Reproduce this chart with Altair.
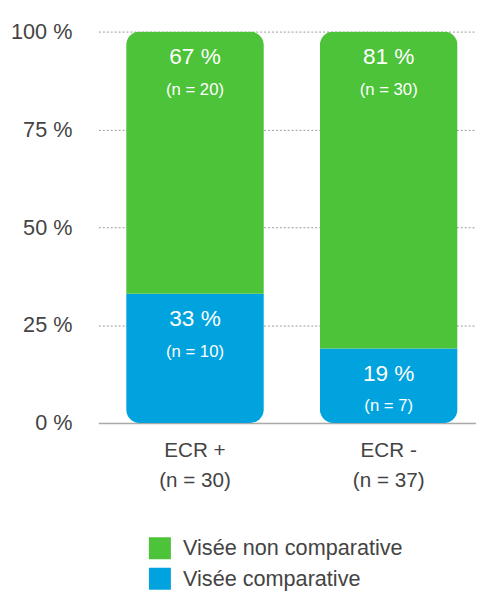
import altair as alt
import pandas as pd

groups = ["ECR +|(n = 30)", "ECR -|(n = 37)"]
series = ["Visée non comparative", "Visée comparative"]
pct_non = [67, 81]
pct_comp = [33, 19]
n_non = [20, 30]
n_comp = [10, 7]
colors = ["#4dc339", "#00a3de"]

rows = []
for i, g in enumerate(groups):
    rows.append(dict(group=g, serie=series[1], pct=pct_comp[i], n=n_comp[i], ord=0,
                     top=pct_comp[i]))
    rows.append(dict(group=g, serie=series[0], pct=pct_non[i], n=n_non[i], ord=1,
                     top=pct_comp[i] + pct_non[i]))
df = pd.DataFrame(rows)
df["pct_label"] = df["pct"].astype(str) + " %"
df["n_label"] = "(n = " + df["n"].astype(str) + ")"

FONT = "Liberation Sans"
TXT = "#444"

x_scale = alt.Scale(paddingInner=0.289, paddingOuter=0.119, align=0.6)

x_enc = alt.X("group:N", sort=groups, title=None, scale=x_scale,
              axis=alt.Axis(labelExpr="split(datum.label, '|')", labelAngle=0,
                            labelFontSize=21, labelColor=TXT, labelFont=FONT,
                            labelPadding=17, labelLineHeight=31, ticks=False,
                            domainColor="#aaa", domainWidth=1.5, grid=False))

base = alt.Chart(df)

bars = base.mark_bar(cornerRadius=14).encode(
    x=x_enc,
    y=alt.Y("pct:Q", stack="zero", title=None,
            scale=alt.Scale(domain=[0, 100], nice=False),
            axis=alt.Axis(values=[0, 25, 50, 75, 100], labelExpr="datum.value + ' %'",
                          labelFontSize=22, labelColor=TXT, labelFont=FONT,
                          labelPadding=27, ticks=False, domain=False,
                          gridColor="#999", gridDash=[2, 2], gridWidth=1)),
    color=alt.Color("serie:N", scale=alt.Scale(domain=series, range=colors),
                    legend=alt.Legend(title=None, orient="none", legendX=51, legendY=514,
                                      symbolType="square", symbolSize=500,
                                      symbolStrokeWidth=0, symbolOpacity=1,
                                      labelFontSize=22, labelColor=TXT, labelFont=FONT,
                                      labelLimit=0, rowPadding=8, labelOffset=12)),
    order=alt.Order("ord:Q"),
)

pct_text = base.mark_text(color="white", fontSize=23, font=FONT,
                          baseline="middle", dy=26).encode(
    x=alt.X("group:N", sort=groups, scale=x_scale),
    y=alt.Y("top:Q"),
    text="pct_label:N",
)

n_text = base.mark_text(color="white", fontSize=17, font=FONT,
                        baseline="middle", dy=59).encode(
    x=alt.X("group:N", sort=groups, scale=x_scale),
    y=alt.Y("top:Q"),
    text="n_label:N",
)

chart = alt.layer(bars, pct_text, n_text).properties(
    width=384, height=398,
    autosize=alt.AutoSizeParams(type="none"),
    padding={"left": 92, "top": 19, "right": 0, "bottom": 167},
).configure_view(stroke=None)

chart.save("out.html", embed_options={"renderer": "svg", "actions": False})
